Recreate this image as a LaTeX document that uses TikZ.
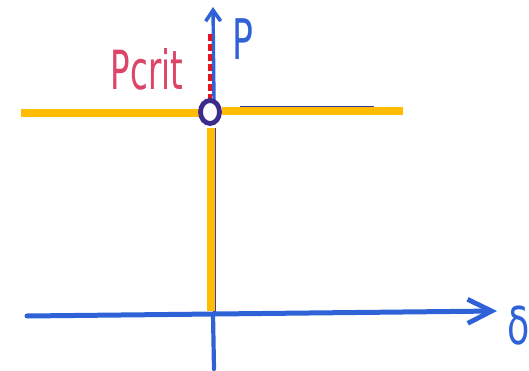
\documentclass[tikz,border=0pt]{standalone}
\usepackage{fontspec}
\setmainfont{DejaVu Sans}
\usetikzlibrary{arrows.meta,shapes.geometric}
\definecolor{penblue}{HTML}{2F62D6}
\definecolor{goldline}{HTML}{FFBC00}
\definecolor{navyring}{HTML}{3B2C8C}
\definecolor{critred}{HTML}{DC4468}
\definecolor{dashred}{HTML}{E8141E}
\tikzset{
  axisline/.style={draw=penblue, line width=5pt, line cap=round},
  goldbar/.style={draw=goldline, line width=8.5pt},
  lbl/.style={inner sep=0pt, anchor=center},
}
\begin{document}
\begin{tikzpicture}[x=1pt, y=-1pt]
\useasboundingbox (0,0) rectangle (529,371);
% key points
\coordinate (O) at (213,314);
\coordinate (xl) at (27,316);
\coordinate (xr) at (497,311);
\coordinate (ytop) at (213,7);
\coordinate (ybot) at (214,369);
\coordinate (dtop) at (210,32);
\coordinate (dbot) at (210,101);
\coordinate (gl1) at (21,113);
\coordinate (gl2) at (200,113);
\coordinate (gr1) at (222,111);
\coordinate (gr2) at (403,111);
\coordinate (pr1) at (240,107.4);
\coordinate (pr2) at (374,107.4);
\coordinate (gv1) at (211,128);
\coordinate (gv2) at (211,311);
\coordinate (bv) at (214,101);
% axes
\draw[axisline, line width=4.2pt] (O) -- (ybot);
\draw[draw=navyring!60!penblue, line width=3pt] (214.5,128) -- (214.5,312);
\draw[axisline, line width=3.4pt, -{Straight Barb[length=11pt, width=15pt, line width=3.6pt]}] (bv) -- (ytop);
\draw[axisline, -{Straight Barb[length=24pt, width=24pt, line width=4.8pt]}] (xl) -- (xr);
% thin dark line above right bar
\draw[draw=navyring!80!penblue, line width=3pt] (pr1) -- (pr2);
% gold bars
\draw[goldbar] (gl1) -- (gl2);
\draw[goldbar] (gr1) -- (gr2);
\draw[goldbar] (gv1) -- (gv2);
% red dashed
\draw[draw=dashred, line width=3.4pt, dash pattern=on 7pt off 3pt] (dbot) -- (dtop);
% ring
\node[ellipse, draw=navyring, line width=4.8pt, minimum width=19pt, minimum height=23pt, inner sep=0pt, fill=white] (ring) at (210,112) {};
% labels
\node[lbl, text=critred] (pcrit) at (147,69) {\fontsize{54}{54}\selectfont\addfontfeature{FakeStretch=0.6}Pcrit};
\node[lbl, text=penblue] (plabel) at (243,39) {\fontsize{56}{56}\selectfont\addfontfeature{FakeStretch=0.62}P};
\node[lbl, text=penblue, anchor=west] (dlabel) at (507,326) {\fontsize{52}{52}\selectfont\addfontfeature{FakeStretch=0.7}δ};
\end{tikzpicture}
\end{document}
